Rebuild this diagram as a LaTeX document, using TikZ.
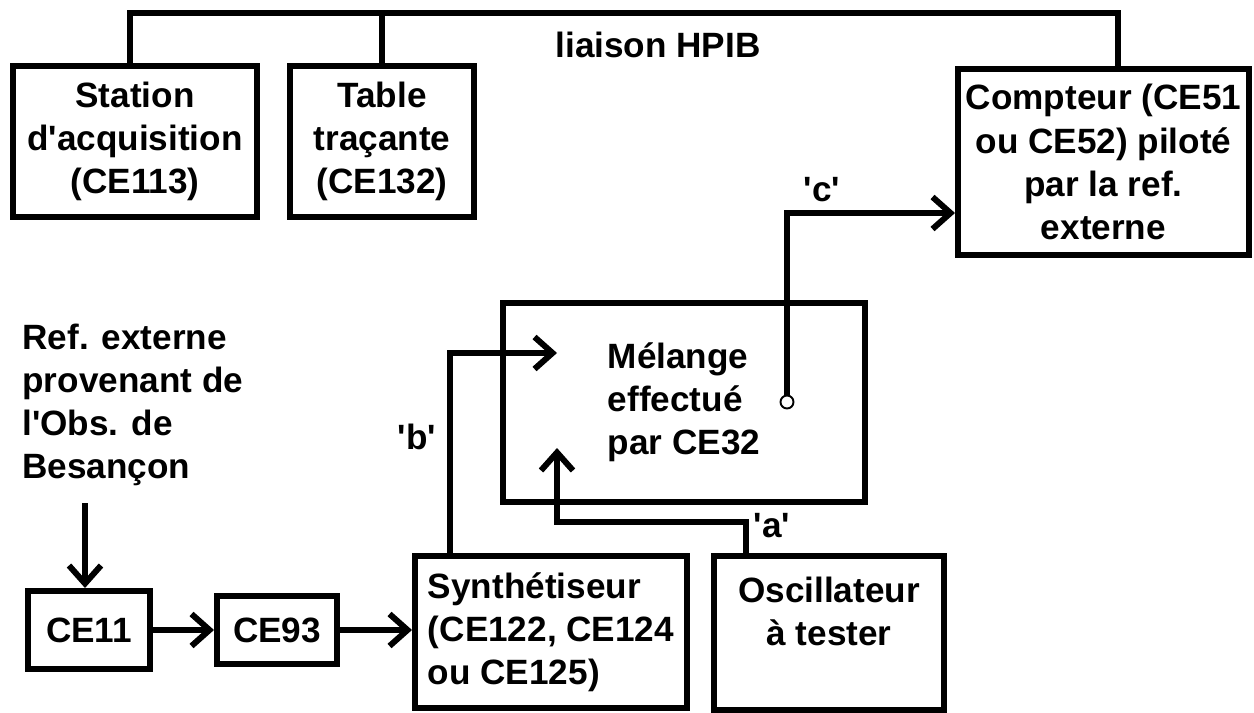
\documentclass[tikz,border=0pt]{standalone}
\usepackage{fontspec}
\setmainfont{Liberation Sans}
\usetikzlibrary{positioning,calc,arrows.meta}
\newcommand{\sq}{\textquotesingle}
\tikzset{
  wire/.style    = {line width=3.4pt},
  arr/.style     = {line width=3.4pt, -{Straight Barb[length=3.6mm,width=6.4mm]}},
  ubox/.style    = {draw, line width=3.4pt, inner sep=2pt, align=center,
                    font=\fontsize{20}{24.5}\selectfont\bfseries},
  lbox/.style    = {ubox, align=left},
  lbl/.style     = {font=\fontsize{20}{24.5}\selectfont\bfseries, inner sep=1.5pt},
  odot/.style    = {circle, draw, line width=1.1pt, fill=white, inner sep=0pt,
                    minimum size=2.6mm},
}
\begin{document}
\begin{tikzpicture}
  \useasboundingbox (0,0) rectangle (25.08,-14.26);
  % top row: instruments on the HPIB link
  \node[ubox, minimum width=4.88cm, minimum height=3.02cm] (station) at (2.70,-2.83)
    {Station\\d\sq acquisition\\(CE113)};
  \node[ubox, minimum width=3.68cm, minimum height=3.02cm] (table) at (7.64,-2.83)
    {Table\\traçante\\(CE132)};
  \node[ubox, minimum width=5.82cm, minimum height=3.72cm] (compteur) at (22.07,-3.24)
    {Compteur (CE51\\ou CE52) piloté\\par la ref.\\externe};
  \coordinate (busw) at (2.60,-0.26);
  \coordinate (buse) at (22.36,-0.26);
  \draw[wire] (station.north -| busw)--(busw)--(buse)--(compteur.north -| buse);
  \draw[wire] (table.north)--(table.north |- busw);
  \node[lbl] (hpib) at (13.16,-0.90) {liaison HPIB};
  % mixer
  \node[lbox, minimum width=7.24cm, minimum height=3.98cm] (melange) at (13.68,-8.05)
    {Mélange\\effectué\\par CE32};
  \node[odot] (sortie) at (15.74,-8.04) {};
  % bottom chain
  \node[lbl, anchor=north west, align=left] (ref) at (0.39,-6.42)
    {Ref. externe\\provenant de\\l\sq Obs. de\\Besançon};
  \node[ubox, minimum width=2.44cm, minimum height=1.56cm] (ce11) at (1.78,-12.60) {CE11};
  \node[ubox, minimum width=2.40cm, minimum height=1.36cm] (ce93) at (5.54,-12.60) {CE93};
  \node[lbox, minimum width=5.44cm, minimum height=3.04cm] (synth) at (11.02,-12.64)
    {Synthétiseur\\(CE122, CE124\\ou CE125)};
  \node[ubox, minimum width=4.60cm, minimum height=3.08cm] (osc) at (16.58,-12.66)
    {Oscillateur\\à tester\\~};
  \coordinate (refout) at (1.70,-10.06);
  \draw[arr] (refout)--(refout |- ce11.north);
  \draw[arr] (ce11.east)--(ce93.west);
  \draw[arr] (ce93.east)--(ce93.east -| synth.west);
  % signals a, b, c
  \coordinate (bup) at (9.00,-7.06);
  \coordinate (bin) at (11.14,-7.06);
  \draw[arr] (synth.north -| bup)--(bup)--(bin);
  \node[lbl] (lb) at (8.34,-8.74) {\sq b\sq};
  \coordinate (aup) at (14.92,-10.44);
  \coordinate (ain) at (11.14,-8.96);
  \draw[arr] (osc.north -| aup)--(aup)-|(ain);
  \node[lbl] (la) at (15.44,-10.52) {\sq a\sq};
  \coordinate (cup) at (15.74,-4.26);
  \draw[arr] (sortie.north)--(cup)--(cup -| compteur.west);
  \node[lbl] (lc) at (16.44,-3.80) {\sq c\sq};
\end{tikzpicture}
\end{document}
